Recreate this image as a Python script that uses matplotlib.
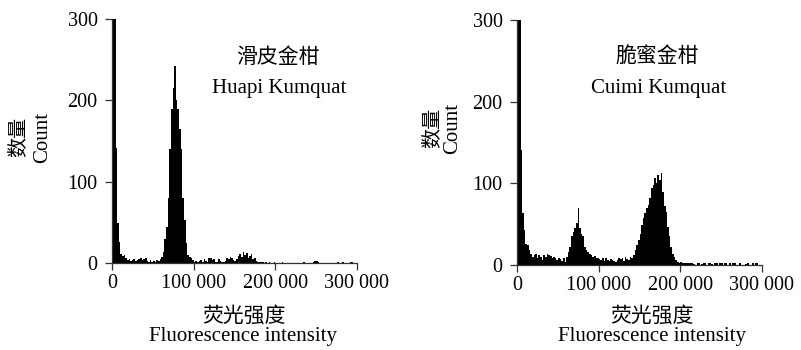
import numpy as np
import matplotlib
matplotlib.use("Agg")
import matplotlib.pyplot as plt
from matplotlib.ticker import FuncFormatter

plt.rcParams['font.family'] = ['Liberation Serif', 'Noto Sans CJK SC', 'DejaVu Sans']

# histogram bins: 2000 fluorescence units wide, 0 - 300 000
bin_width = 2000
bin_edges = np.arange(0, 300000 + bin_width, bin_width)

# Huapi Kumquat counts per bin
huapi_counts = [
    330, 310, 141, 49, 26, 12, 9, 10, 6, 4,
    5, 3, 4, 5, 3, 4, 5, 6, 4, 5,
    6, 3, 2, 4, 2, 3, 1, 4, 3, 5,
    8, 14, 30, 45, 80, 140, 190, 215, 242, 200,
    190, 165, 140, 80, 53, 25, 10, 8, 7, 4,
    2, 3, 1, 3, 4, 2, 5, 3, 2, 6,
    6, 4, 5, 2, 1, 5, 3, 1, 2, 3,
    7, 5, 8, 6, 4, 3, 5, 9, 12, 8,
    14, 10, 13, 7, 9, 11, 5, 6, 3, 2,
    1, 2, 1, 0, 1, 0, 2, 0, 0, 2,
    0, 0, 0, 0, 1, 0, 0, 0, 0, 0,
    0, 0, 0, 0, 0, 0, 0, 2, 0, 0,
    0, 0, 0, 2, 3, 3, 2, 0, 0, 0,
    0, 0, 0, 0, 0, 0, 0, 0, 2, 0,
    0, 2, 0, 0, 0, 0, 2, 1, 0, 0,
]

# Cuimi Kumquat counts per bin
cuimi_counts = [
    330, 310, 141, 64, 43, 26, 24, 18, 14, 10,
    12, 13, 8, 12, 10, 6, 12, 10, 13, 12,
    11, 9, 10, 8, 6, 9, 7, 5, 8, 4,
    10, 16, 22, 35, 40, 45, 51, 70, 45, 38,
    35, 22, 18, 16, 13, 12, 10, 11, 8, 9,
    7, 6, 9, 5, 8, 6, 5, 7, 6, 5,
    4, 6, 8, 7, 9, 5, 10, 7, 6, 10,
    8, 12, 18, 24, 31, 38, 49, 58, 64, 70,
    73, 82, 94, 98, 106, 100, 110, 104, 113, 90,
    72, 65, 47, 35, 22, 14, 10, 6, 4, 3,
    4, 3, 2, 3, 3, 2, 3, 2, 1, 0,
    2, 2, 0, 1, 2, 2, 0, 2, 2, 1,
    0, 2, 2, 0, 2, 2, 0, 2, 2, 0,
    2, 0, 2, 2, 0, 0, 2, 0, 0, 0,
    1, 2, 0, 0, 2, 0, 2, 2, 0, 0,
]

x_ticks = [0, 100000, 200000, 300000]
y_ticks = [0, 100, 200, 300]

panels = [
    (huapi_counts, '滑皮金柑', 'Huapi Kumquat'),
    (cuimi_counts, '脆蜜金柑', 'Cuimi Kumquat'),
]

W, H = 801, 350
fig = plt.figure(figsize=(W / 100, H / 100), dpi=100)

# axes boxes in pixels: (left, top, right, bottom)
boxes = [(112.3, 19.0, 356.7, 263.3), (517.3, 20.0, 761.7, 265.0)]
# text anchors in pixels
ylab_pos = [((18, 137), (43, 137)), ((432, 128), (453, 128))]
title_pos = [((278, 57), (279, 88)), ((657, 57), (659, 88))]
xlab_pos = [((244, 316), (243, 337)), ((652, 316), (652, 337))]


def px(x, y):
    return x / W, 1 - y / H


def fmt_thousands(v, pos):
    return f"{int(v):,}".replace(",", " ")


for i, (counts, cn, en) in enumerate(panels):
    l, t, r, b = boxes[i]
    ax = fig.add_axes([l / W, 1 - b / H, (r - l) / W, (b - t) / H])
    ax.stairs(counts, bin_edges, fill=True, color='black', linewidth=0)
    ax.set_xlim(0, 300000)
    ax.set_ylim(0, 300)
    ax.set_xticks(x_ticks)
    ax.set_yticks(y_ticks)
    ax.xaxis.set_major_formatter(FuncFormatter(fmt_thousands))
    for s in ['top', 'right']:
        ax.spines[s].set_visible(False)
    for s in ['left', 'bottom']:
        ax.spines[s].set_linewidth(0.9)
        ax.spines[s].set_color('#333333')
    ax.tick_params(axis='both', direction='out', length=5, width=0.9,
                   color='#333333', labelsize=14.5)
    ax.tick_params(axis='y', pad=5.5)
    ax.tick_params(axis='x', pad=3)

    (x1, y1), (x2, y2) = ylab_pos[i]
    fig.text(*px(x1, y1), '数量', rotation=90, ha='center', va='center',
             fontsize=14.5, family=['Noto Sans CJK SC'])
    fig.text(*px(x2, y2), 'Count', rotation=90, ha='center', va='center',
             fontsize=15)

    (x1, y1), (x2, y2) = title_pos[i]
    fig.text(*px(x1, y1), cn, ha='center', va='center', fontsize=15,
             family=['Noto Sans CJK SC'])
    fig.text(*px(x2, y2), en, ha='center', va='center', fontsize=15)

    (x1, y1), (x2, y2) = xlab_pos[i]
    fig.text(*px(x1, y1), '荧光强度', ha='center', va='center', fontsize=15,
             family=['Noto Sans CJK SC'])
    fig.text(*px(x2, y2), 'Fluorescence intensity', ha='center', va='center',
             fontsize=15)

fig.savefig('out.png', dpi=100)
